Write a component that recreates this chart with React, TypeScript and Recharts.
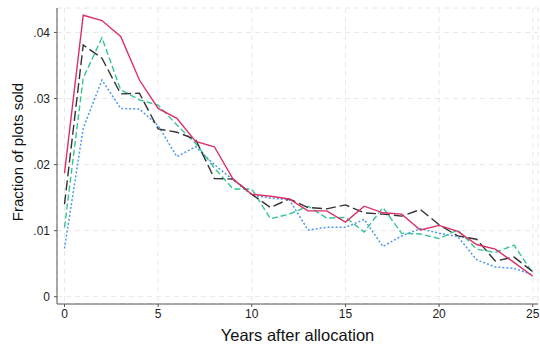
import { LineChart, Line, XAxis, YAxis, CartesianGrid } from 'recharts';

const years = [0, 1, 2, 3, 4, 5, 6, 7, 8, 9, 10, 11, 12, 13, 14, 15, 16, 17, 18, 19, 20, 21, 22, 23, 24, 25];

const red = [0.0187, 0.0426, 0.0418, 0.0394, 0.0328, 0.0285, 0.027, 0.0235, 0.0227, 0.0178, 0.0155, 0.0152, 0.0148, 0.013, 0.013, 0.0113, 0.0137, 0.0127, 0.0125, 0.0101, 0.0108, 0.0099, 0.0079, 0.0072, 0.0052, 0.0031];
const black = [0.014, 0.0381, 0.0361, 0.0307, 0.0308, 0.0254, 0.0249, 0.0238, 0.0179, 0.0178, 0.0155, 0.0135, 0.0148, 0.0135, 0.0133, 0.0139, 0.0127, 0.0125, 0.0122, 0.0132, 0.0109, 0.0092, 0.0087, 0.0054, 0.006, 0.0038];
const green = [0.0105, 0.0331, 0.0392, 0.0313, 0.0298, 0.029, 0.026, 0.0232, 0.0195, 0.0163, 0.0163, 0.0118, 0.0125, 0.0137, 0.0119, 0.012, 0.0098, 0.0135, 0.0096, 0.0095, 0.0088, 0.0101, 0.0072, 0.0067, 0.0078, 0.0036];
const blue = [0.0073, 0.0255, 0.0328, 0.0285, 0.0284, 0.0259, 0.0212, 0.0227, 0.02, 0.0177, 0.0154, 0.0149, 0.0147, 0.0101, 0.0105, 0.0105, 0.0117, 0.0076, 0.0092, 0.0103, 0.0096, 0.0091, 0.0056, 0.0045, 0.0043, 0.0033];

const xTicks = [0, 5, 10, 15, 20, 25];
const yTicks = [0, 0.01, 0.02, 0.03, 0.04];

const data = years.map((y, i) => ({ year: y, red: red[i], black: black[i], green: green[i], blue: blue[i] }));

const FONT = '"Liberation Sans", Arial, Helvetica, sans-serif';

function fmtY(v: number) {
  if (v === 0) return '0';
  return v.toFixed(2).replace(/^0/, '');
}

export default function App() {
  return (
    <div style={{ position: 'absolute', left: 0, top: 0, width: 540, height: 344, background: '#fff', fontFamily: FONT }}>
      <LineChart width={540} height={344} data={data} margin={{ top: 8, right: 2, bottom: 0, left: 0 }}>
        <CartesianGrid stroke="#e8e8e8" strokeDasharray="5 4" />
        <XAxis
          dataKey="year"
          type="number"
          domain={[-0.4, 25.28]}
          ticks={xTicks}
          height={40}
          tickSize={3}
          tickMargin={2}
          stroke="#555"
          tick={{ fill: '#222', fontSize: 12, fontFamily: FONT }}
          label={{ value: 'Years after allocation', position: 'insideBottom', offset: 3, fill: '#111', fontSize: 16.5, fontFamily: FONT }}
        />
        <YAxis
          type="number"
          domain={[-0.0011, 0.0437]}
          ticks={yTicks}
          width={57}
          tickSize={3}
          tickMargin={4}
          stroke="#555"
          tickFormatter={fmtY}
          tick={{ fill: '#222', fontSize: 12, fontFamily: FONT }}
          label={{ value: 'Fraction of plots sold', angle: -90, position: 'insideLeft', offset: 18, textAnchor: 'middle', dy: -4, fill: '#111', fontSize: 15, fontFamily: FONT }}
        />
        <Line dataKey="blue" stroke="#4a98f7" strokeWidth={1.5} strokeDasharray="2 2" dot={false} isAnimationActive={false} />
        <Line dataKey="green" stroke="#35c690" strokeWidth={1.4} strokeDasharray="6 3" dot={false} isAnimationActive={false} />
        <Line dataKey="black" stroke="#333" strokeWidth={1.4} strokeDasharray="10 4" dot={false} isAnimationActive={false} />
        <Line dataKey="red" stroke="#dc2f66" strokeWidth={1.4} dot={false} isAnimationActive={false} />
      </LineChart>
    </div>
  );
}
